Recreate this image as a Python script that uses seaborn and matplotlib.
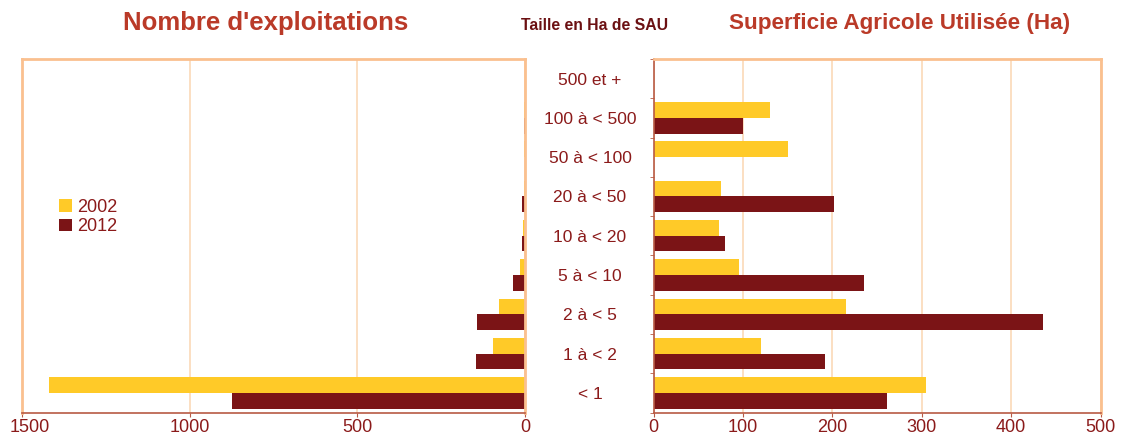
import matplotlib
matplotlib.use("Agg")
import matplotlib.pyplot as plt
import matplotlib.transforms as mtransforms
import seaborn as sns
import pandas as pd
import numpy as np
from matplotlib.ticker import FixedLocator

categories = ["500 et +", "100 à < 500", "50 à < 100", "20 à < 50", "10 à < 20",
              "5 à < 10", "2 à < 5", "1 à < 2", "< 1"]
years = ["2002", "2012"]
exploitations_2002 = [0, 2, 2, 4, 6, 16, 78, 95, 1420]
exploitations_2012 = [0, 3, 0, 9, 8, 35, 144, 145, 873]
sau_2002 = [0, 130, 150, 75, 73, 96, 215, 120, 305]
sau_2012 = [0, 100, 0, 202, 80, 236, 436, 192, 261]

sns.set_style("white")
plt.rcParams['font.family'] = ['Liberation Sans', 'DejaVu Sans']

YELLOW = "#FFCA28"
BROWN = "#7B1416"
FRAME = "#FAC08F"
GRID = "#FBD9B8"
SPINE = "#B85A44"
TEXT = "#8B1A1A"
TITLE = "#BA3A28"

def long_df(v02, v12):
    return pd.DataFrame({
        "cat": categories * 2,
        "year": [years[0]] * len(categories) + [years[1]] * len(categories),
        "val": list(v02) + list(v12),
    })

fig = plt.figure(figsize=(11.23, 4.37), dpi=100)
axL = fig.add_axes([22/1123, 1-412.5/437, (525-22)/1123, (412.5-59)/437])
axR = fig.add_axes([653.5/1123, 1-412.5/437, (1100.5-653.5)/1123, (412.5-59)/437])

pal = {years[0]: YELLOW, years[1]: BROWN}
sns.barplot(data=long_df(exploitations_2002, exploitations_2012), y="cat", x="val",
            hue="year", orient="h", order=categories, hue_order=years, palette=pal,
            width=0.8, ax=axL, saturation=1, linewidth=0)
sns.barplot(data=long_df(sau_2002, sau_2012), y="cat", x="val",
            hue="year", orient="h", order=categories, hue_order=years, palette=pal,
            width=0.8, ax=axR, saturation=1, linewidth=0, legend=False)

# Left axes
axL.set_xlim(1500, 0)
axL.set_xticks([1500, 1000, 500, 0])
axL.set_yticks([])
axL.set_xlabel("")
axL.set_ylabel("")
axL.xaxis.grid(True, color=GRID, linewidth=1.2)
axL.set_axisbelow(True)
for s in ["top", "left", "right"]:
    axL.spines[s].set_color(FRAME)
    axL.spines[s].set_linewidth(2)
axL.spines["bottom"].set_color(SPINE)
axL.spines["bottom"].set_linewidth(1.2)
axL.tick_params(axis="x", colors=SPINE, labelcolor=TEXT, labelsize=13, length=3,
                direction="out", pad=2, bottom=True)
axL.set_ylim(len(categories) - 0.5, -0.5)
# keep the first label inside the image as in the reference
first = axL.get_xticklabels()[0]
first.set_transform(first.get_transform() +
                    mtransforms.ScaledTranslation(8/100, 0, fig.dpi_scale_trans))

leg = axL.legend(loc="center left", bbox_to_anchor=(0.06, 0.553), frameon=False,
                 fontsize=13, handlelength=0.7, handleheight=0.7, handletextpad=0.3,
                 labelspacing=0.15, borderaxespad=0)
for t in leg.get_texts():
    t.set_color(TEXT)

# Right axes
axR.set_xlim(0, 500)
axR.set_xticks([0, 100, 200, 300, 400, 500])
axR.set_xlabel("")
axR.set_ylabel("")
axR.xaxis.grid(True, color=GRID, linewidth=1.2)
axR.set_axisbelow(True)
for s in ["top", "right"]:
    axR.spines[s].set_color(FRAME)
    axR.spines[s].set_linewidth(2)
for s in ["bottom", "left"]:
    axR.spines[s].set_color(SPINE)
    axR.spines[s].set_linewidth(1.2)
axR.set_ylim(len(categories) - 0.5, -0.5)
axR.set_yticks(range(len(categories)))
axR.set_yticklabels(categories)
axR.yaxis.set_minor_locator(FixedLocator(np.arange(-0.5, len(categories), 1)))
axR.tick_params(axis="y", which="major", length=0, pad=45.7, labelcolor=TEXT, labelsize=12.5)
axR.tick_params(axis="y", which="minor", length=3, color=SPINE, direction="out", left=True)
for lab in axR.get_yticklabels():
    lab.set_horizontalalignment("center")
axR.tick_params(axis="x", colors=SPINE, labelcolor=TEXT, labelsize=13, length=3,
                direction="out", pad=2, bottom=True)

# Titles
tfam = ['Liberation Sans', 'DejaVu Sans']
fig.text(266/1123, 1-23/437, "Nombre d'exploitations", ha="center", va="center",
         fontsize=18.5, fontweight="bold", color=TITLE, family=tfam)
fig.text(595/1123, 1-26/437, "Taille en Ha de SAU", ha="center", va="center",
         fontsize=11.3, fontweight="bold", color="#6B1012", family=tfam)
fig.text(900/1123, 1-23/437, "Superficie Agricole Utilisée (Ha)", ha="center", va="center",
         fontsize=16.2, fontweight="bold", color=TITLE, family=tfam)

fig.savefig("out.png", dpi=100)
